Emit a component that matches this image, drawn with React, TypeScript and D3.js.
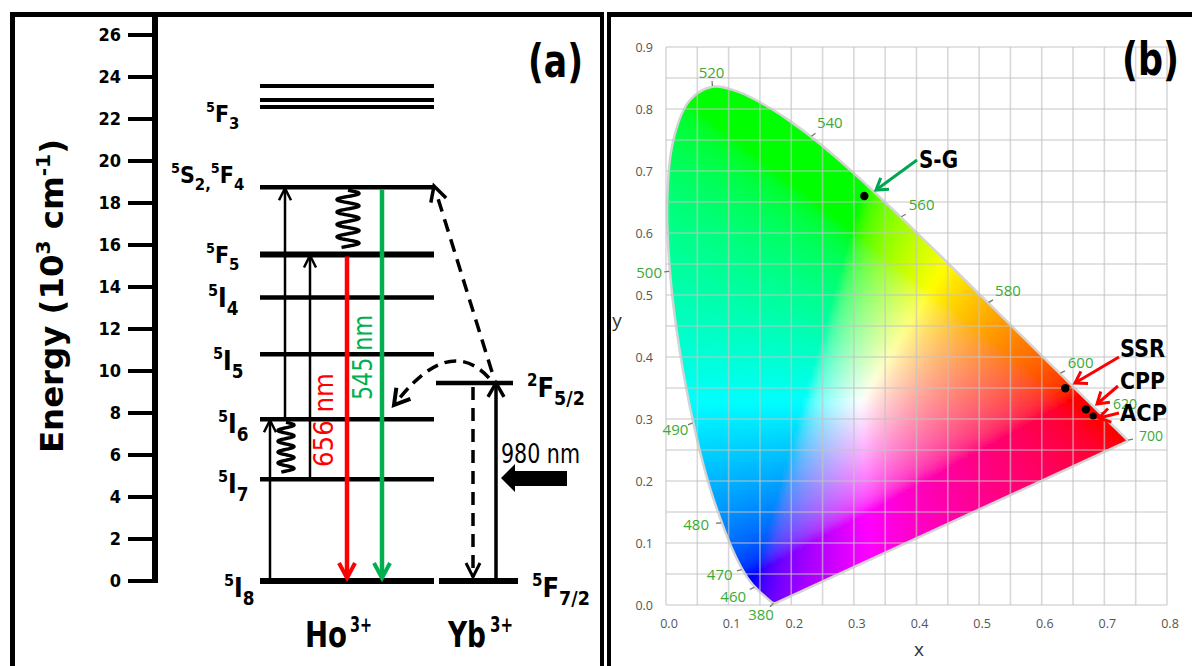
import React from 'react';
import * as d3 from 'd3';

// ---------------- DATA ----------------
const energyTicks = [0, 2, 4, 6, 8, 10, 12, 14, 16, 18, 20, 22, 24, 26];
const hoLevelNames = ['5I8', '5I7', '5I6', '5I5', '5I4', '5F5', '5S2,5F4', '5F3'];
const hoLevelEnergies = [0, 4.85, 7.7, 10.8, 13.5, 15.55, 18.75, 22.57];
const hoF3Sublevels = [22.57, 22.9, 23.57];
const ybLevelNames = ['5F7/2', '2F5/2'];
const ybLevelEnergies = [0, 9.43];
// absorption (upward) steps in Ho3+: [from, to]
const hoAbsorption = [[0, 7.7], [7.7, 18.75], [4.85, 15.55]];
// non-radiative relaxations: [from, to]
const hoRelax = [[7.7, 4.85], [18.75, 15.55]];
// emissions: [from, to]
const emissionNames = ['656 nm', '545 nm'];
const emissionFrom = [15.55, 18.75];
const excitationLabel = '980 nm';
const ionNames = ['Ho', 'Yb'];
const ionCharge = '3+';

// CIE 1931 spectral locus
const cieWavelengths = [380, 385, 390, 395, 400, 405, 410, 415, 420, 425, 430, 435, 440, 445, 450, 455, 460, 465, 470, 475, 480, 485, 490, 495, 500, 505, 510, 515, 520, 525, 530, 535, 540, 545, 550, 555, 560, 565, 570, 575, 580, 585, 590, 595, 600, 605, 610, 615, 620, 625, 630, 635, 640, 645, 650, 655, 660, 665, 670, 675, 680, 685, 690, 695, 700];
const cieX = [0.1741, 0.1740, 0.1738, 0.1736, 0.1733, 0.1730, 0.1726, 0.1721, 0.1714, 0.1703, 0.1689, 0.1669, 0.1644, 0.1611, 0.1566, 0.1510, 0.1440, 0.1355, 0.1241, 0.1096, 0.0913, 0.0687, 0.0454, 0.0235, 0.0082, 0.0039, 0.0139, 0.0389, 0.0743, 0.1142, 0.1547, 0.1929, 0.2296, 0.2658, 0.3016, 0.3373, 0.3731, 0.4087, 0.4441, 0.4788, 0.5125, 0.5448, 0.5752, 0.6029, 0.6270, 0.6482, 0.6658, 0.6801, 0.6915, 0.7006, 0.7079, 0.7140, 0.7190, 0.7230, 0.7260, 0.7283, 0.7300, 0.7311, 0.7320, 0.7327, 0.7334, 0.7340, 0.7344, 0.7346, 0.7347];
const cieY = [0.0050, 0.0050, 0.0049, 0.0049, 0.0048, 0.0048, 0.0048, 0.0048, 0.0051, 0.0058, 0.0069, 0.0086, 0.0109, 0.0138, 0.0177, 0.0227, 0.0297, 0.0399, 0.0578, 0.0868, 0.1327, 0.2007, 0.2950, 0.4127, 0.5384, 0.6548, 0.7502, 0.8120, 0.8338, 0.8262, 0.8059, 0.7816, 0.7543, 0.7243, 0.6923, 0.6589, 0.6245, 0.5896, 0.5547, 0.5202, 0.4866, 0.4544, 0.4242, 0.3965, 0.3725, 0.3514, 0.3340, 0.3197, 0.3083, 0.2993, 0.2920, 0.2859, 0.2809, 0.2770, 0.2740, 0.2717, 0.2700, 0.2689, 0.2680, 0.2673, 0.2666, 0.2660, 0.2656, 0.2654, 0.2653];
const locusLabels = [380, 460, 470, 480, 490, 500, 520, 540, 560, 580, 600, 620, 700];
const xTicks = [0, 0.1, 0.2, 0.3, 0.4, 0.5, 0.6, 0.7, 0.8];
const yTicks = [0, 0.1, 0.2, 0.3, 0.4, 0.5, 0.6, 0.7, 0.8, 0.9];
const sampleNames = ['S-G', 'SSR', 'CPP', 'ACP'];
const sampleX = [0.3167, 0.6376, 0.6705, 0.6822];
const sampleY = [0.6597, 0.3495, 0.3156, 0.3048];

// ---------------- LAYOUT / STYLE ----------------
const W = 1192, H = 666;
const COND = "'Liberation Sans Narrow','Arial Narrow','DejaVu Sans Condensed','Liberation Sans',Arial,sans-serif";
const WIDE = "'DejaVu Sans','Verdana',sans-serif";
const UI = "'Open Sans','Noto Sans',sans-serif";
const RED = '#ff0000';
const GREEN = '#00b050';
const LBLGREEN = '#3aaa35';

const yE = d3.scaleLinear().domain([0, 26]).range([581, 35]);
const sx = d3.scaleLinear().domain([0, 0.8]).range([666, 1167]);
const sy = d3.scaleLinear().domain([0, 0.9]).range([605, 47]);

const hoX0 = 260, hoX1 = 434;
const labelPos: Record<string, [number, number, number]> = {
  '5I8': [224, 597, 26], '5I7': [218, 493, 26], '5I6': [218, 433, 26], '5I5': [213, 370, 26],
  '5I4': [208, 307, 26], '5F5': [206, 263, 23], '5S2,5F4': [171, 183, 23], '5F3': [206, 122, 23],
  '5F7/2': [532, 597, 27], '2F5/2': [527, 397, 27],
};
const levelWidth: Record<string, number> = { '5I8': 6, '5F5': 6 };
const absorptionX = [270, 285, 310];
const relaxX = [286, 348];
const relaxAmp = [8, 11];
const emissionX = [347, 382];
const emissionColor = [RED, GREEN];
const emissionText: [number, number, number][] = [[333, 467, 94], [372, 400, 85]];
const ionPos: [number, number, number, number][] = [[305, 42, 350, 22], [448, 38, 490, 23]];
const wlOffset: Record<number, [number, number]> = {
  380: [-14, 13], 460: [-23, 10], 470: [-24, 6], 480: [-27, 2], 490: [-19, 8], 500: [-22, 2],
  520: [-1, -15], 540: [20, -14], 560: [22, -13], 580: [21, -12], 600: [22, -11], 620: [26, -10], 700: [25, -5],
};
const sampleLabel: [number, number, number, number][] = [[919, 168, 39, 25], [1120, 357, 45, 25], [1120, 389, 45, 23], [1120, 421, 47, 23]];
const sampleArrowFrom: [number, number][] = [[917, 160], [1119, 357], [1118, 386], [1119, 413]];
const sampleArrowTip: [number, number][] = [[876, 190], [1075, 383], [1097, 404], [1099, 418]];
const sampleColor = ['#00a651', RED, RED, RED];

// ---------------- HELPERS ----------------
function vHead(tx: number, ty: number, dx: number, dy: number, len: number, hw: number) {
  const l = Math.hypot(dx, dy);
  const ux = dx / l, uy = dy / l;
  const bx = tx - ux * len, by = ty - uy * len;
  const nx = -uy, ny = ux;
  return `M${bx + nx * hw},${by + ny * hw}L${tx},${ty}L${bx - nx * hw},${by - ny * hw}`;
}

function parseTerm(name: string) {
  const parts = name.split(',');
  const segs: { t: string; k: 'sup' | 'main' | 'sub' }[] = [];
  parts.forEach((p, i) => {
    const m = p.match(/^(\d)([A-Z])(.+)$/);
    if (!m) return;
    segs.push({ t: m[1], k: 'sup' });
    segs.push({ t: m[2], k: 'main' });
    segs.push({ t: m[3] + (i < parts.length - 1 ? ',' : ''), k: 'sub' });
  });
  return segs;
}

function TermLabel({ name }: { name: string }) {
  const [x, y, fs] = labelPos[name];
  const segs = parseTerm(name);
  let cur = 0;
  const off = { sup: -fs * 0.42, main: 0, sub: fs * 0.3 };
  const size = { sup: fs * 0.62, main: fs, sub: fs * 0.72 };
  return (
    <text x={x} y={y} fontFamily={COND} fontWeight="bold" fill="#000">
      {segs.map((s, i) => {
        const dy = off[s.k] - cur;
        cur = off[s.k];
        return <tspan key={i} dy={dy} fontSize={size[s.k]}>{s.t}</tspan>;
      })}
    </text>
  );
}

function wiggle(cx: number, y0: number, y1: number, turns: number, amp: number) {
  const pts: [number, number][] = [];
  const n = 160;
  for (let i = 0; i <= n; i++) {
    const t = i / n;
    pts.push([cx + amp * Math.sin(2 * Math.PI * turns * t), y0 + (y1 - y0) * t]);
  }
  return d3.line()(pts) as string;
}

function srgb(c: number) {
  c = Math.max(0, Math.min(1, c));
  return c <= 0.0031308 ? 12.92 * c : 1.055 * Math.pow(c, 1 / 2.4) - 0.055;
}
function xyColor(x: number, y: number) {
  const yy = Math.max(y, 0.002);
  const X = x / yy, Y = 1, Z = Math.max(0, 1 - x - y) / yy;
  let r = 3.2406 * X - 1.5372 * Y - 0.4986 * Z;
  let g = -0.9689 * X + 1.8758 * Y + 0.0415 * Z;
  let b = 0.0557 * X - 0.2040 * Y + 1.0570 * Z;
  r = Math.max(r, 0); g = Math.max(g, 0); b = Math.max(b, 0);
  const m = Math.max(r, g, b) || 1;
  return `rgb(${Math.round(srgb(r / m) * 255)},${Math.round(srgb(g / m) * 255)},${Math.round(srgb(b / m) * 255)})`;
}

const locus: [number, number][] = cieX.map((x, i) => [x, cieY[i]]);

function buildCells() {
  const step = 0.008;
  const cells: { x: number; y: number; c: string }[] = [];
  const pad = 0.014;
  for (let x = 0; x < 0.75; x += step) {
    for (let y = 0; y < 0.845; y += step) {
      const cx = x + step / 2, cy = y + step / 2;
      let inside = false;
      for (const [ox, oy] of [[0, 0], [pad, 0], [-pad, 0], [0, pad], [0, -pad], [pad, pad], [-pad, -pad], [pad, -pad], [-pad, pad]]) {
        if (d3.polygonContains(locus, [cx + ox, cy + oy])) { inside = true; break; }
      }
      if (inside) cells.push({ x, y, c: xyColor(cx, cy) });
    }
  }
  return { cells, step };
}

export default function App() {
  const { cells, step } = React.useMemo(buildCells, []);
  const locusPath = (d3.line().curve(d3.curveCatmullRom).x(d => sx(d[0])).y(d => sy(d[1]))(locus) as string) + 'Z';
  const gridX = d3.range(0, 0.8001, 0.05);
  const gridY = d3.range(0, 0.9001, 0.05);

  const ybX0 = 436, ybX1 = 515;
  const ybUpX = 496, ybDownX = 473;
  const y2F = yE(ybLevelEnergies[1]);
  const y0 = yE(0);

  return (
    <svg width={W} height={H} viewBox={`0 0 ${W} ${H}`} style={{ position: 'absolute', left: 0, top: 0, background: '#fff' }}>
      <defs>
        <clipPath id="horseshoe"><path d={locusPath} /></clipPath>
        <filter id="soft" x="-5%" y="-5%" width="110%" height="110%">
          <feGaussianBlur stdDeviation="2.6" />
        </filter>
      </defs>
      <rect x={0} y={0} width={W} height={H} fill="#fff" />

      {/* ================= PANEL (a) ================= */}
      <g stroke="#000" fill="none">
        <line x1={12.5} y1={12} x2={12.5} y2={H} strokeWidth={5} />
        <line x1={10} y1={14.5} x2={604} y2={14.5} strokeWidth={5} />
        <line x1={602} y1={12} x2={602} y2={H} strokeWidth={4} />
      </g>

      {/* energy axis */}
      <line x1={155} y1={17} x2={155} y2={583} stroke="#000" strokeWidth={6} />
      {energyTicks.map(t => (
        <g key={t}>
          <line x1={128} x2={155} y1={yE(t)} y2={yE(t)} stroke="#000" strokeWidth={4} />
          <text x={121} y={yE(t) + 6} textAnchor="end" fontFamily={COND} fontWeight="bold" fontSize={18}>{t}</text>
        </g>
      ))}
      <text transform="translate(63,296) rotate(-90)" textAnchor="middle" fontFamily={WIDE} fontWeight="bold" fontSize={32} textLength={314} lengthAdjust="spacingAndGlyphs">
        <tspan>Energy (10</tspan>
        <tspan fontSize={20} dy={-13}>3</tspan>
        <tspan dy={13}> cm</tspan>
        <tspan fontSize={20} dy={-13}>-1</tspan>
        <tspan dy={13}>)</tspan>
      </text>

      {/* Ho levels */}
      {hoLevelNames.map((n, i) => (
        n === '5F3' ? null :
          <line key={n} x1={hoX0} x2={hoX1} y1={yE(hoLevelEnergies[i])} y2={yE(hoLevelEnergies[i])} stroke="#000" strokeWidth={levelWidth[n] || 4.5} />
      ))}
      {hoF3Sublevels.map(e => (
        <line key={e} x1={hoX0} x2={hoX1} y1={yE(e)} y2={yE(e)} stroke="#000" strokeWidth={4} />
      ))}
      {hoLevelNames.map(n => <TermLabel key={n} name={n} />)}

      {/* Yb levels */}
      <line x1={ybX0 + 3} x2={ybX1 + 3} y1={y0} y2={y0} stroke="#000" strokeWidth={6} />
      <line x1={ybX0} x2={ybX1 - 2} y1={y2F} y2={y2F} stroke="#000" strokeWidth={4.5} />
      {ybLevelNames.map(n => <TermLabel key={n} name={n} />)}

      {/* absorption arrows */}
      {hoAbsorption.map(([a, b], i) => (
        <g key={i} stroke="#000" fill="none" strokeWidth={2.5}>
          <line x1={absorptionX[i]} x2={absorptionX[i]} y1={yE(a)} y2={yE(b) + 2} />
          <path d={vHead(absorptionX[i], yE(b) + 1, 0, -1, 12, 6)} />
        </g>
      ))}
      {/* non-radiative wiggles */}
      {hoRelax.map(([a, b], i) => (
        <path key={i} d={wiggle(relaxX[i], yE(a) + 3, yE(b) - 7, 4.6, relaxAmp[i])} stroke="#000" strokeWidth={3.4} fill="none" />
      ))}
      {/* emissions */}
      {emissionFrom.map((e, i) => (
        <g key={i} stroke={emissionColor[i]} fill="none" strokeWidth={4.5}>
          <line x1={emissionX[i]} x2={emissionX[i]} y1={yE(e) + 2} y2={y0 - 4} />
          <path d={vHead(emissionX[i], y0 - 3, 0, 1, 15, 8)} strokeWidth={4} />
        </g>
      ))}
      {emissionNames.map((t, i) => (
        <text key={t} transform={`translate(${emissionText[i][0]},${emissionText[i][1]}) rotate(-90)`} fontFamily={COND} fontSize={27}
          fill={emissionColor[i]} textLength={emissionText[i][2]} lengthAdjust="spacingAndGlyphs">{t.replace(' ', i === 0 ? '  ' : ' ')}</text>
      ))}

      {/* Yb transitions */}
      <g stroke="#000" fill="none" strokeWidth={3.5}>
        <line x1={ybUpX} x2={ybUpX} y1={y0} y2={y2F + 2} />
        <path d={vHead(ybUpX, y2F, 0, -1, 14, 8)} />
        <line x1={ybDownX} x2={ybDownX} y1={y2F + 4} y2={y0 - 4} strokeDasharray="13 8" />
        <path d={vHead(ybDownX, y0 - 4, 0, 1, 14, 7)} strokeWidth={3} />
        <line x1={492} y1={372} x2={436} y2={192} strokeDasharray="13 8" />
        <path d={vHead(434, 186, -56, -180, 15, 8)} />
        <path d="M489,378 Q450,335 398,400" strokeDasharray="12 7" />
        <path d={vHead(394, 405, -52, 65, 15, 9)} strokeWidth={4} />
      </g>
      <path d="M501,478 L515,464 L515,471 L567,471 L567,486 L515,486 L515,492 Z" fill="#000" />
      <text x={501} y={463} fontFamily={COND} fontSize={27} textLength={79} lengthAdjust="spacingAndGlyphs">{excitationLabel.replace(' ', '  ')}</text>

      {/* ion labels */}
      {ionNames.map((n, i) => (
        <g key={n}>
          <text x={ionPos[i][0]} y={647} fontFamily={COND} fontWeight="bold" fontSize={36} textLength={ionPos[i][1]} lengthAdjust="spacingAndGlyphs">{n}</text>
          <text x={ionPos[i][2]} y={632} fontFamily={COND} fontWeight="bold" fontSize={21} textLength={ionPos[i][3]} lengthAdjust="spacingAndGlyphs">{ionCharge}</text>
        </g>
      ))}
      <text x={528} y={77} fontFamily={COND} fontWeight="bold" fontSize={46} textLength={55} lengthAdjust="spacingAndGlyphs">(a)</text>

      {/* ================= PANEL (b) ================= */}
      <g stroke="#000" fill="none">
        <line x1={609} y1={12} x2={609} y2={H} strokeWidth={4} />
        <line x1={607} y1={14.5} x2={W} y2={14.5} strokeWidth={5} />
      </g>

      {/* horseshoe halo */}
      <path d={locusPath} fill="#fff" stroke="#d4d4d4" strokeWidth={5} strokeLinejoin="round" />
      <g clipPath="url(#horseshoe)">
        <g filter="url(#soft)">
          {cells.map((c, i) => (
            <rect key={i} x={sx(c.x)} y={sy(c.y + step)} width={sx(step) - sx(0) + 0.8} height={sy(0) - sy(step) + 0.8} fill={c.c} />
          ))}
        </g>
      </g>

      {/* grid */}
      <g stroke="rgba(195,195,195,0.65)" strokeWidth={1.6}>
        {gridX.map((g, i) => <line key={'gx' + i} x1={sx(g)} x2={sx(g)} y1={sy(0)} y2={sy(0.9)} />)}
        {gridY.map((g, i) => <line key={'gy' + i} x1={sx(0)} x2={sx(0.8)} y1={sy(g)} y2={sy(g)} />)}
      </g>

      {/* tick labels */}
      {xTicks.map(t => (
        <text key={'xt' + t} x={sx(t) + 3} y={628} textAnchor="middle" fontFamily={UI} fontSize={12.5} fill="#555">{t.toFixed(1)}</text>
      ))}
      {yTicks.map(t => (
        <text key={'yt' + t} x={653} y={sy(t) + 4.5} textAnchor="end" fontFamily={UI} fontSize={12.5} fill="#555">{t.toFixed(1)}</text>
      ))}
      <text x={919} y={656} textAnchor="middle" fontFamily={UI} fontSize={19} fill="#333">x</text>
      <text x={617} y={327} textAnchor="middle" fontFamily={UI} fontSize={19} fill="#333">y</text>

      {/* wavelength labels */}
      {locusLabels.map(wl => {
        const i = cieWavelengths.indexOf(wl);
        const px = sx(cieX[i]), py = sy(cieY[i]);
        const [dx, dy] = wlOffset[wl];
        const l = Math.hypot(dx, dy);
        const ux = dx / l, uy = dy / l;
        return (
          <g key={wl}>
            <line x1={px + ux * 2} y1={py + uy * 2} x2={px + ux * 7} y2={py + uy * 7} stroke="#777" strokeWidth={1.3} />
            <text x={px + dx} y={py + dy + 5} textAnchor="middle" fontFamily={UI} fontSize={wl === 620 || wl === 700 ? 14 : 15} fill={LBLGREEN}>{wl}</text>
          </g>
        );
      })}

      {/* samples */}
      {sampleNames.map((n, i) => (
        <g key={n}>
          <g stroke={sampleColor[i]} strokeWidth={3} fill="none">
            <line x1={sampleArrowFrom[i][0]} y1={sampleArrowFrom[i][1]} x2={sampleArrowTip[i][0]} y2={sampleArrowTip[i][1]} />
            <path d={vHead(sampleArrowTip[i][0], sampleArrowTip[i][1], sampleArrowTip[i][0] - sampleArrowFrom[i][0], sampleArrowTip[i][1] - sampleArrowFrom[i][1], 11, 7)} />
          </g>
          <circle cx={sx(sampleX[i])} cy={sy(sampleY[i])} r={i === 3 ? 3.6 : 4.2} fill="#000" />
          <text x={sampleLabel[i][0]} y={sampleLabel[i][1]} fontFamily={COND} fontWeight="bold" fontSize={sampleLabel[i][3]}
            textLength={sampleLabel[i][2]} lengthAdjust="spacingAndGlyphs">{n}</text>
        </g>
      ))}
      <text x={1122} y={75} fontFamily={COND} fontWeight="bold" fontSize={46} textLength={57} lengthAdjust="spacingAndGlyphs">(b)</text>
    </svg>
  );
}
